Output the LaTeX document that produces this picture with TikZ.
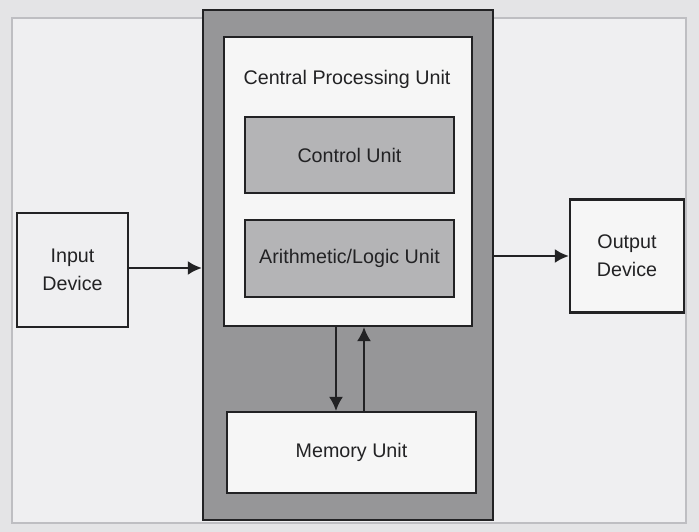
\documentclass[tikz,border=0pt]{standalone}
\usepackage{fontspec}
\setmainfont{Liberation Sans}
\usepackage{xcolor}
\usepackage{tikz}
\usetikzlibrary{arrows.meta,calc}
\definecolor{pagegray}{RGB}{228, 228, 230}
\definecolor{paperwhite}{RGB}{239, 239, 241}
\definecolor{framegray}{RGB}{190, 190, 194}
\definecolor{cpugray}{RGB}{150, 150, 152}
\definecolor{unitgray}{RGB}{180, 180, 182}
\definecolor{boxwhite}{RGB}{246, 246, 246}
\definecolor{inkgray}{RGB}{34, 34, 36}

\begin{document}
\begin{tikzpicture}[x=0.025cm, y=-0.025cm,
        font=\fontsize{14}{20}\selectfont, text=inkgray,
        block/.style={draw=inkgray, line width=1.6pt, inner sep=0pt, align=center},
        flow/.style={draw=inkgray, line width=1.6pt, -{Latex[length=10pt, width=10pt]}}]
        % page and frame
        \fill[pagegray] (0,0) rectangle (699,532);
        \useasboundingbox (0,0) rectangle (699,532);
        \draw[framegray, fill=paperwhite, line width=1pt] (12,18) rectangle (686,523);

        % processor
        \node[block, fill=cpugray, minimum width=7.25cm, minimum height=12.75cm] (cpu) at (348,265) {};
        \node[block, fill=boxwhite, minimum width=6.2cm, minimum height=7.22cm] (cpubox) at (348,181.5) {};
        \node (cpulabel) at (347,79) {Central Processing Unit};
        \node[block, fill=unitgray, minimum width=5.22cm, minimum height=1.9cm] (cu) at (349.5,155) {Control Unit};
        \node[block, fill=unitgray, minimum width=5.22cm, minimum height=1.92cm] (alu) at (349.5,258.5) {Arithmetic/Logic Unit};
        \node[block, fill=boxwhite, minimum width=6.22cm, minimum height=2.02cm] (mem) at (351.5,452.5) {Memory Unit};

        % devices
        \node[block, fill=paperwhite, minimum width=2.78cm, minimum height=2.85cm] (input) at (72.5,270) {Input\\Device};
        \node[block, fill=boxwhite, minimum width=2.85cm, minimum height=2.82cm] (output) at (627,256) {Output\\Device};

        % data paths
        \draw[flow] ([yshift=0.05cm]input.east) -- ([yshift=0.05cm]input.east -| cpu.west);
        \draw[flow] (cpu.east |- output.west) -- (output.west);
        \draw[flow] ([xshift=-0.3cm]cpubox.south) -- ([xshift=-0.3cm]cpubox.south |- mem.north);
        \draw[flow] ([xshift=0.4cm]cpubox.south |- mem.north) -- ([xshift=0.4cm]cpubox.south);
    \end{tikzpicture}
\end{document}
